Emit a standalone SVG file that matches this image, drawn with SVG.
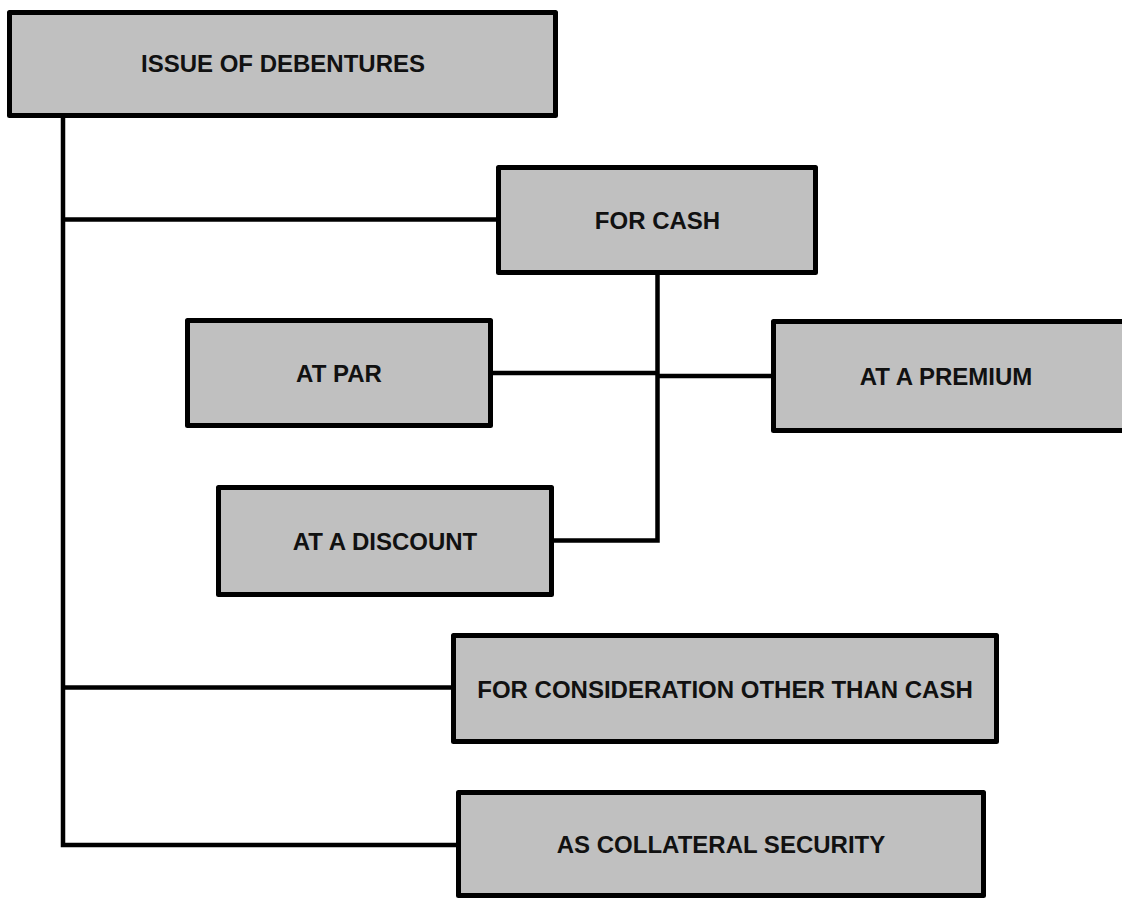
<svg xmlns="http://www.w3.org/2000/svg" width="1122" height="900" viewBox="0 0 1122 900">
<style>
.box{fill:#c0c0c0;stroke:#000;stroke-width:5;stroke-linejoin:round}
.lbl{font-family:"Liberation Sans",Arial,sans-serif;font-weight:bold;font-size:24px;fill:#111;text-anchor:middle}
.ln{fill:none;stroke:#000;stroke-width:4.5;stroke-linejoin:miter}
</style>
<rect width="1122" height="900" fill="#fff"/>
<g id="connectors">
<polyline class="ln" points="63,118 63,845 458,845"/>
<line class="ln" x1="63" y1="219.5" x2="498" y2="219.5"/>
<line class="ln" x1="63" y1="687.5" x2="453" y2="687.5"/>
<polyline class="ln" points="657.5,275 657.5,540.5 554,540.5"/>
<line class="ln" x1="491" y1="373" x2="657.5" y2="373"/>
<line class="ln" x1="657.5" y1="376" x2="773" y2="376"/>
</g>
<g id="issue">
<rect class="box" x="9.5" y="12.5" width="546" height="103"/>
<text class="lbl" x="283" y="71.5">ISSUE OF DEBENTURES</text>
</g>
<g id="cash">
<rect class="box" x="498.5" y="167.5" width="317" height="105"/>
<text class="lbl" x="657.5" y="228.5">FOR CASH</text>
</g>
<g id="par">
<rect class="box" x="187.5" y="320.5" width="303" height="105"/>
<text class="lbl" x="339" y="381.5">AT PAR</text>
</g>
<g id="premium">
<rect class="box" x="773.5" y="321.5" width="352" height="109"/>
<text class="lbl" x="946" y="384.5">AT A PREMIUM</text>
</g>
<g id="discount">
<rect class="box" x="218.5" y="487.5" width="333" height="107"/>
<text class="lbl" x="385" y="549.5">AT A DISCOUNT</text>
</g>
<g id="consideration">
<rect class="box" x="453.5" y="635.5" width="543" height="106"/>
<text class="lbl" x="725" y="697.5">FOR CONSIDERATION OTHER THAN CASH</text>
</g>
<g id="collateral">
<rect class="box" x="458.5" y="792.5" width="525" height="103"/>
<text class="lbl" x="721" y="852.5">AS COLLATERAL SECURITY</text>
</g>
</svg>
